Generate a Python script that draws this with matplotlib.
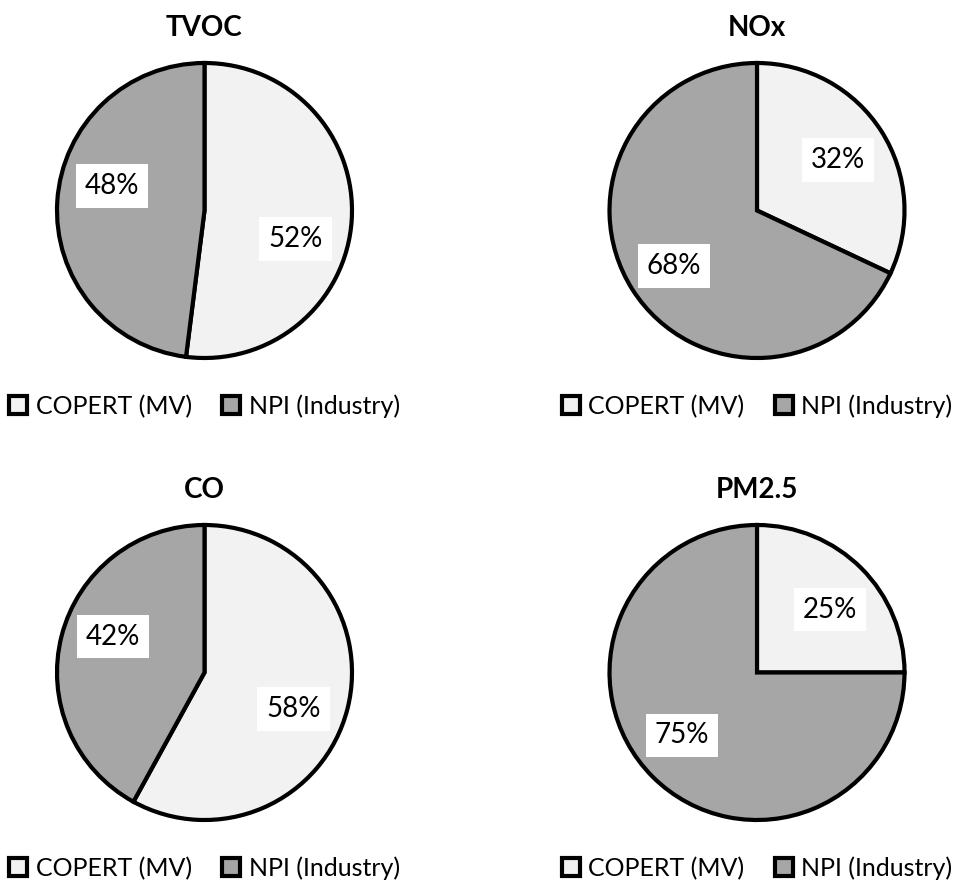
import matplotlib.pyplot as plt
from matplotlib.patches import Patch

### Data
pollutants = ["TVOC", "NOx", "CO", "PM2.5"]
copert_mv = [52, 32, 58, 25]
npi_industry = [48, 68, 42, 75]
series_names = ["COPERT (MV)", "NPI (Industry)"]

### Style / layout
colors = ["#F2F2F2", "#A6A6A6"]
W, H = 957, 880
# pie centres in pixels (top based) and radius
centres = [(204.5, 210.5), (757, 210.5), (204.5, 672.5), (757, 672.5)]
radius = 147.5
title_dy = -182.5
legend_dy = 195.5
# label positions inside each pie (unit radius), [copert, npi]
label_pos = [
    [(0.617, -0.193), (-0.627, 0.166)],
    [(0.547, 0.341), (-0.564, -0.378)],
    [(0.603, -0.247), (-0.620, 0.244)],
    [(0.497, 0.427), (-0.508, -0.427)],
]

plt.rcParams['font.family'] = ['Lato', 'DejaVu Sans']

fig = plt.figure(figsize=(W / 100, H / 100), dpi=100)

for i, name in enumerate(pollutants):
    cx, cy = centres[i]
    half = 1.05 * radius
    ax = fig.add_axes([(cx - half) / W, (H - cy - half) / H, 2 * half / W, 2 * half / H])
    vals = [copert_mv[i], npi_industry[i]]
    wedges, _ = ax.pie(vals, colors=colors, startangle=90, counterclock=False,
                       wedgeprops=dict(edgecolor="black", linewidth=3.0))
    for w in wedges:
        w.set_clip_on(False)
    ax.set_xlim(-1.05, 1.05)
    ax.set_ylim(-1.05, 1.05)
    ax.set_aspect('equal')
    ax.axis('off')
    for v, (px, py) in zip(vals, label_pos[i]):
        ax.text(px, py, f"{v}%", ha="center", va="center", fontsize=20,
                bbox=dict(boxstyle="square,pad=0.32", facecolor="white", edgecolor="none"))
    fig.text(cx / W, 1 - (cy + title_dy) / H, name, ha="center", va="center",
             fontsize=20, fontweight="bold")
    handles = [Patch(facecolor=c, edgecolor="black", linewidth=3.0) for c in colors]
    ax.legend(handles, series_names, loc="center", ncol=2, frameon=False,
              bbox_to_anchor=(cx / W, 1 - (cy + legend_dy) / H),
              bbox_transform=fig.transFigure, fontsize=18,
              handlelength=0.72, handleheight=0.72, handletextpad=0.35,
              columnspacing=1.2, borderpad=0)

fig.savefig("out.png", dpi=100)
